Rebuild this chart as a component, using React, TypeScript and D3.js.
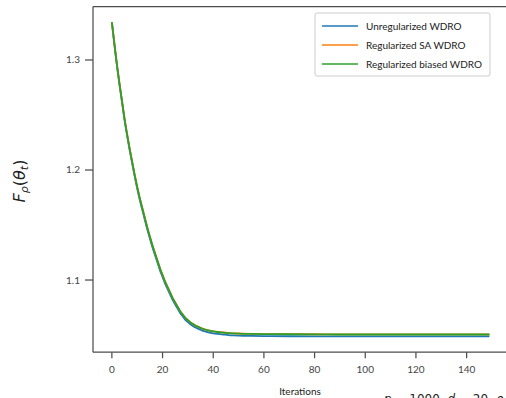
import React from "react";
import * as d3 from "d3";

const iterations = [0,1,2,3,4,5,6,7,8,9,10,11,12,13,14,15,16,17,18,19,20,21,22,23,24,25,26,27,28,29,30,31,32,33,34,35,36,37,38,39,40,42,44,46,48,50,55,60,70,80,90,100,110,120,130,140,149];

const unregularized = [1.3343,1.3142,1.2950,1.2778,1.2617,1.2456,1.2315,1.2184,1.2063,1.1942,1.1831,1.1730,1.1639,1.1548,1.1458,1.1378,1.1298,1.1228,1.1158,1.1088,1.1028,1.0968,1.0918,1.0868,1.0818,1.0778,1.0738,1.0698,1.0668,1.0638,1.0618,1.0598,1.0583,1.0568,1.0558,1.0548,1.0538,1.0531,1.0525,1.0520,1.0516,1.0510,1.0505,1.0500,1.0497,1.0495,1.0492,1.0490,1.0489,1.0488,1.0487,1.0487,1.0487,1.0487,1.0487,1.0487,1.0487];

const regularizedSA = [1.3343,1.3145,1.2955,1.2786,1.2626,1.2466,1.2326,1.2196,1.2076,1.1956,1.1846,1.1746,1.1656,1.1566,1.1476,1.1396,1.1316,1.1246,1.1176,1.1106,1.1046,1.0986,1.0936,1.0886,1.0836,1.0796,1.0756,1.0716,1.0686,1.0656,1.0636,1.0616,1.0601,1.0586,1.0576,1.0566,1.0556,1.0549,1.0543,1.0538,1.0534,1.0528,1.0523,1.0519,1.0516,1.0514,1.0511,1.0509,1.0508,1.0507,1.0506,1.0506,1.0506,1.0506,1.0506,1.0506,1.0506];

const regularizedBiased = [1.3343,1.3145,1.2955,1.2785,1.2625,1.2465,1.2325,1.2195,1.2075,1.1955,1.1845,1.1745,1.1655,1.1565,1.1475,1.1395,1.1315,1.1245,1.1175,1.1105,1.1045,1.0985,1.0935,1.0885,1.0835,1.0795,1.0755,1.0715,1.0685,1.0655,1.0635,1.0615,1.0600,1.0585,1.0575,1.0565,1.0555,1.0548,1.0542,1.0537,1.0533,1.0527,1.0522,1.0518,1.0515,1.0513,1.0510,1.0508,1.0507,1.0506,1.0505,1.0505,1.0505,1.0505,1.0505,1.0505,1.0505];

const seriesNames = ["Unregularized WDRO", "Regularized SA WDRO", "Regularized biased WDRO"];
const seriesColors = ["#1f77b4", "#ff7f0e", "#2ca02c"];
const xTicks = [0, 20, 40, 60, 80, 100, 120, 140];
const yTicks = [1.1, 1.2, 1.3];

const W = 506, H = 398;
const FONT = "Lato, 'DejaVu Sans', sans-serif";

export default function App() {
  const x = d3.scaleLinear().domain([-7.45, 156.45]).range([93, 508.3]);
  const y = d3.scaleLinear().domain([1.0344, 1.3486]).range([352.2, 6.5]);
  const allSeries = [unregularized, regularizedSA, regularizedBiased];
  const line = d3.line<number>()
    .x((_, i) => x(iterations[i]))
    .y((d) => y(d))
    .curve(d3.curveMonotoneX);
  const spine = "#4d4d4d";
  const [x0, x1] = x.range();
  const [y0, y1] = y.range();
  return (
    <svg width={W} height={H} style={{ position: "absolute", left: 0, top: 0, background: "#fff" }}
      fontFamily={FONT}>
      <rect x={0} y={0} width={W} height={H} fill="#fff" />
      {allSeries.map((s, i) => (
        <path key={i} d={line(s) || ""} fill="none" stroke={seriesColors[i]} strokeWidth={1.8} />
      ))}
      <line x1={x0} x2={x0} y1={y1} y2={y0} stroke={spine} strokeWidth={1.25} />
      <line x1={x0} x2={x1} y1={y0} y2={y0} stroke={spine} strokeWidth={1.25} />
      <line x1={x0} x2={x1} y1={y1} y2={y1} stroke={spine} strokeWidth={1.25} />
      <line x1={x1} x2={x1} y1={y1} y2={y0} stroke={spine} strokeWidth={1.25} />
      {xTicks.map((t) => (
        <g key={t}>
          <line x1={x(t)} x2={x(t)} y1={y0} y2={y0 + 6} stroke={spine} strokeWidth={1.25} />
          <text x={x(t)} y={y0 + 21} textAnchor="middle" fontSize={10} fill="#444">{t}</text>
        </g>
      ))}
      {yTicks.map((t) => (
        <g key={t}>
          <line x1={x0 - 8} x2={x0} y1={y(t)} y2={y(t)} stroke={spine} strokeWidth={1.25} />
          <text x={x0 - 13} y={y(t) + 3.5} textAnchor="end" fontSize={10} fill="#444">{t.toFixed(1)}</text>
        </g>
      ))}
      <text x={300} y={395} textAnchor="middle" fontSize={10} fill="#222">Iterations</text>
      <text transform="translate(25,181) rotate(-90)" textAnchor="middle" fontSize={16}
        fontFamily="'DejaVu Sans', sans-serif" fill="#222">
        <tspan fontStyle="italic">F</tspan>
        <tspan fontStyle="italic" fontSize={11} dy={3}>ρ</tspan>
        <tspan dy={-3}>(</tspan>
        <tspan fontStyle="italic">θ</tspan>
        <tspan fontStyle="italic" fontSize={11} dy={3}>t</tspan>
        <tspan dy={-3}>)</tspan>
      </text>
      <text x={384} y={403} fontSize={12} fontFamily="'DejaVu Sans', sans-serif" fill="#222">
        <tspan fontStyle="italic">n</tspan> = 1000, <tspan fontStyle="italic">d</tspan> = 20, <tspan fontStyle="italic">ρ</tspan> = 0.1
      </text>
      <rect x={315} y={13} width={175} height={63} rx={2} fill="#fff" stroke="#cccccc" strokeWidth={1} />
      {seriesNames.map((name, i) => (
        <g key={name}>
          <line x1={322} x2={358} y1={26 + i * 19} y2={26 + i * 19} stroke={seriesColors[i]} strokeWidth={1.5} />
          <text x={366} y={26 + i * 19 + 3.5} fontSize={10} fill="#222">{name}</text>
        </g>
      ))}
    </svg>
  );
}
